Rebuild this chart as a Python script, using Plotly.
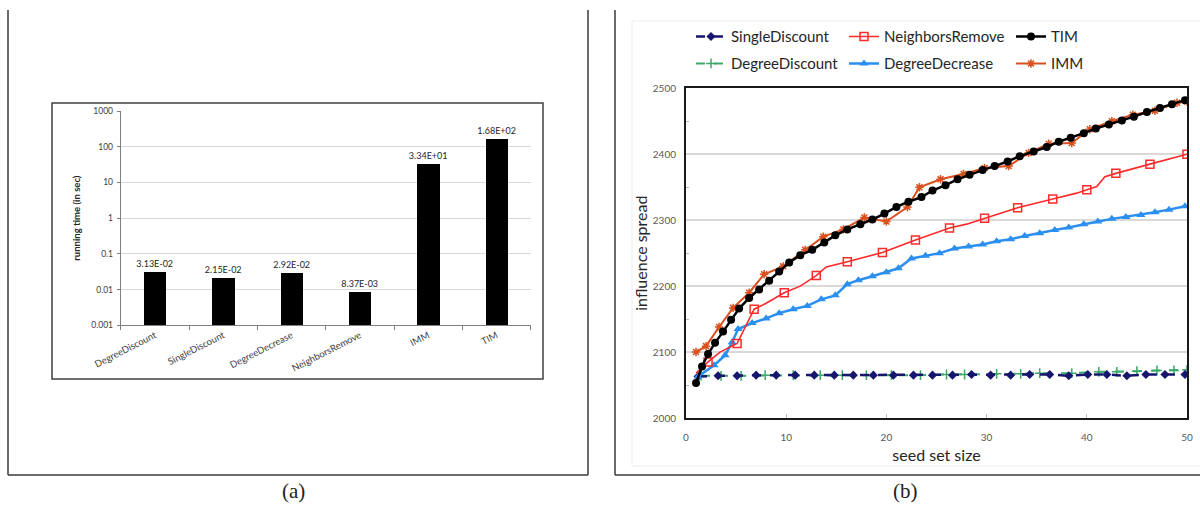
import plotly.graph_objects as go

# ---------------- data: panel (a) ----------------
methods = ["DegreeDiscount", "SingleDiscount", "DegreeDecrease", "NeighborsRemove", "IMM", "TIM"]
run_time = [3.13e-02, 2.15e-02, 2.92e-02, 8.37e-03, 3.34e+01, 1.68e+02]
log_ticks = [0.001, 0.01, 0.1, 1, 10, 100, 1000]
log_tick_text = ["0.001", "0.01", "0.1", "1", "10", "100", "1000"]

# ---------------- data: panel (b) ----------------
tim_x = [1.0, 1.6, 2.2, 2.9, 3.7, 4.5, 5.3, 6.3, 7.3, 8.3, 9.3, 10.3, 11.4, 12.6, 13.8, 14.9,
         16.1, 17.4, 18.6, 19.8, 21.0, 22.2, 23.5, 24.6, 25.9, 27.1, 28.3, 29.6, 30.8, 32.1,
         33.3, 34.7, 36.0, 37.2, 38.4, 39.7, 40.9, 42.2, 43.5, 44.7, 46.0, 47.3, 48.5, 49.8]
tim_y = [2053, 2078, 2097, 2114, 2131, 2149, 2166, 2182, 2195, 2208, 2222, 2236, 2247, 2255, 2266, 2277,
         2286, 2294, 2301, 2310, 2320, 2328, 2335, 2345, 2353, 2362, 2369, 2376, 2382, 2389,
         2397, 2404, 2411, 2419, 2425, 2432, 2439, 2445, 2451, 2457, 2464, 2470, 2476, 2482]

imm_x = [1, 2, 3.3, 4.7, 6.3, 7.8, 9.7, 11.9, 13.7, 15.7, 17.8, 20.0, 22.1, 23.3, 25.4, 27.7,
         29.8, 32.2, 34.2, 36.2, 38.5, 40.3, 42.5, 44.6, 46.8, 49.0, 50]
imm_y = [2100, 2109, 2138, 2167, 2190, 2218, 2230, 2255, 2275, 2286, 2304, 2298, 2320, 2350, 2362, 2370,
         2379, 2382, 2402, 2416, 2417, 2438, 2450, 2460, 2466, 2478, 2480]

nr_x = [1, 2.2, 3.4, 5.1, 6.8, 8.0, 9.8, 11.4, 13.0, 14.0, 16.1, 19.6, 22.9, 26.3, 28.0, 29.8,
        33.1, 36.6, 39.0, 40.0, 41.0, 41.8, 42.9, 46.3, 50]
nr_y = [2068, 2085, 2100, 2113, 2165, 2174, 2190, 2200, 2216, 2229, 2237, 2251, 2270, 2288, 2294, 2303,
        2319, 2332, 2341, 2346, 2351, 2366, 2371, 2385, 2400]
nr_marked = [False, True, False, True, True, False, True, False, True, False, True, True, True, True, False, True,
             True, True, False, True, False, False, True, True, True]

dd_x = [1.2, 2.8, 3.9, 4.6, 5.2, 6.6, 8.0, 9.3, 10.7, 12.1, 13.5, 14.9, 16.1, 17.2, 18.6, 20.0, 21.2,
        22.5, 23.9, 25.3, 26.8, 28.2, 29.6, 31.0, 32.4, 33.8, 35.3, 36.8, 38.2, 39.7, 41.1, 42.5,
        43.9, 45.4, 46.8, 48.2, 49.8]
dd_y = [2063, 2080, 2095, 2115, 2135, 2144, 2151, 2159, 2165, 2170, 2180, 2186, 2203, 2209, 2215, 2221, 2227,
        2242, 2246, 2250, 2257, 2260, 2263, 2268, 2271, 2276, 2280, 2285, 2289, 2294, 2298, 2302,
        2305, 2308, 2312, 2316, 2321]

sd_x = [1.2, 3.2, 5.1, 7.0, 9.0, 10.9, 12.8, 14.8, 16.7, 18.7, 20.7, 22.7, 24.6, 26.6, 28.5, 30.4,
        32.4, 34.3, 36.3, 38.2, 40.1, 42.0, 44.0, 45.9, 47.8, 49.8]
sd_y = [2063, 2064, 2064, 2065, 2065, 2065, 2065, 2065, 2065, 2065, 2065, 2065, 2065, 2065, 2066, 2065,
        2065, 2066, 2066, 2064, 2066, 2066, 2064, 2066, 2066, 2066]

ddisc_x = [1.5, 3.5, 5.5, 7.9, 10.7, 13.4, 15.6, 18.0, 20.5, 23.4, 26.0, 27.8, 31.0, 33.4, 35.3,
           38.5, 41.2, 43.0, 45.0, 47.0, 48.7, 50]
ddisc_y = [2064, 2064, 2064, 2065, 2065, 2065, 2065, 2065, 2065, 2065, 2066, 2066, 2067, 2067, 2068,
           2068, 2070, 2070, 2071, 2072, 2072, 2073]

W, H = 1200, 509
FONT = "Lato"


def px(x):
    return x / W


def py(y):
    return 1 - y / H


fig = go.Figure()

# ---------------- panel (a): bars ----------------
fig.add_trace(go.Bar(
    x=methods, y=run_time, xaxis="x", yaxis="y",
    marker=dict(color="black", line=dict(width=0)),
    width=0.33,
    text=[f"{v:.2E}" for v in run_time],
    textposition="outside", cliponaxis=False, constraintext="none",
    textfont=dict(family=FONT, size=9, color="#262626"),
    showlegend=False,
))

# ---------------- panel (b): lines ----------------
fig.add_trace(go.Scatter(
    x=ddisc_x, y=ddisc_y, xaxis="x2", yaxis="y2", name="DegreeDiscount", legend="legend4",
    mode="lines+markers",
    line=dict(color="#3BA86A", width=2, dash="dash"),
    marker=dict(symbol="cross-thin-open", size=7, line=dict(color="#3BA86A", width=1.5)),
))
fig.add_trace(go.Scatter(
    x=sd_x, y=sd_y, xaxis="x2", yaxis="y2", name="SingleDiscount", legend="legend",
    mode="lines+markers",
    line=dict(color="#16166E", width=2.5, dash="dash"),
    marker=dict(symbol="diamond", size=7, color="#16166E"),
))
fig.add_trace(go.Scatter(
    x=dd_x, y=dd_y, xaxis="x2", yaxis="y2", name="DegreeDecrease", legend="legend5",
    mode="lines+markers",
    line=dict(color="#2A8FF0", width=2.5),
    marker=dict(symbol="triangle-up", size=8, color="#2A8FF0"),
))
# NeighborsRemove: full line, markers only on marked points, plus legend entry
fig.add_trace(go.Scatter(
    x=nr_x, y=nr_y, xaxis="x2", yaxis="y2", mode="lines",
    line=dict(color="#FF2A2A", width=1.6), showlegend=False, hoverinfo="skip",
))
fig.add_trace(go.Scatter(
    x=[x for x, m in zip(nr_x, nr_marked) if m],
    y=[y for y, m in zip(nr_y, nr_marked) if m],
    xaxis="x2", yaxis="y2", mode="markers", showlegend=False,
    marker=dict(symbol="square-open", size=8, color="#FF2A2A", line=dict(width=1.5)),
))
fig.add_trace(go.Scatter(
    x=[None], y=[None], xaxis="x2", yaxis="y2", name="NeighborsRemove", legend="legend2",
    mode="lines+markers",
    line=dict(color="#FF2A2A", width=1.6),
    marker=dict(symbol="square-open", size=8, color="#FF2A2A", line=dict(width=1.5)),
))
fig.add_trace(go.Scatter(
    x=imm_x, y=imm_y, xaxis="x2", yaxis="y2", name="IMM", legend="legend6",
    mode="lines+markers",
    line=dict(color="#D9501E", width=2),
    marker=dict(symbol="asterisk-open", size=7, line=dict(color="#D9501E", width=1.5)),
))
fig.add_trace(go.Scatter(
    x=tim_x, y=tim_y, xaxis="x2", yaxis="y2", name="TIM", legend="legend3",
    mode="lines+markers",
    line=dict(color="black", width=2.5),
    marker=dict(symbol="circle", size=8, color="black"),
))

legend_common = dict(xanchor="left", yanchor="middle", bgcolor="rgba(0,0,0,0)",
                     font=dict(family=FONT, size=15, color="#262626"), itemwidth=30,
                     borderwidth=0)
col_x = [691, 844, 1011]
row_y = [36.7, 63.7]

shapes = []
line_col = "#3a3a3a"
shapes += [
    dict(type="line", xref="paper", yref="paper", x0=px(8), x1=px(8), y0=py(10), y1=py(475),
         line=dict(color=line_col, width=1.5)),
    dict(type="line", xref="paper", yref="paper", x0=px(588), x1=px(588), y0=py(10), y1=py(475),
         line=dict(color=line_col, width=1.5)),
    dict(type="line", xref="paper", yref="paper", x0=px(8), x1=px(588), y0=py(475), y1=py(475),
         line=dict(color=line_col, width=1.5)),
    dict(type="rect", xref="paper", yref="paper", x0=px(52), x1=px(543), y0=py(103), y1=py(379),
         line=dict(color="#404040", width=1.5)),
    dict(type="line", xref="paper", yref="paper", x0=px(615), x1=px(615), y0=py(10), y1=py(475),
         line=dict(color=line_col, width=1.5)),
    dict(type="line", xref="paper", yref="paper", x0=px(615), x1=px(1200), y0=py(475), y1=py(475),
         line=dict(color=line_col, width=1.5)),
    dict(type="rect", xref="paper", yref="paper", x0=px(632), x1=px(1210), y0=py(21), y1=py(466),
         line=dict(color="#eeeeee", width=1)),
]

annotations = [
    dict(text="(a)", xref="paper", yref="paper", x=px(293), y=py(491), showarrow=False,
         xanchor="center", yanchor="middle",
         font=dict(family="Liberation Serif", size=21, color="#222")),
    dict(text="(b)", xref="paper", yref="paper", x=px(905), y=py(491), showarrow=False,
         xanchor="center", yanchor="middle",
         font=dict(family="Liberation Serif", size=21, color="#222")),
]

layout_kwargs = dict(
    width=W, height=H,
    margin=dict(l=0, r=0, t=0, b=0, pad=0, autoexpand=False),
    paper_bgcolor="white", plot_bgcolor="white",
    font=dict(family=FONT, color="#404040"),
    shapes=shapes, annotations=annotations,
    xaxis=dict(
        domain=[px(120.7), px(530.7)], anchor="y", type="category", automargin=False,
        showline=True, linecolor="#7f7f7f", linewidth=1,
        ticks="outside", tickson="boundaries", ticklen=4, tickcolor="#7f7f7f",
        tickangle=-27, tickfont=dict(family=FONT, size=9.5, color="#404040"),
        showgrid=False, fixedrange=True,
    ),
    yaxis=dict(
        domain=[py(325.3), py(111)], anchor="x", type="log", range=[-3, 3], automargin=False,
        tickvals=log_ticks, ticktext=log_tick_text,
        tickfont=dict(family=FONT, size=8.5, color="#404040"),
        showgrid=True, gridcolor="#d9d9d9", gridwidth=1,
        showline=True, linecolor="#7f7f7f", linewidth=1,
        ticks="outside", ticklen=3, tickcolor="#7f7f7f", ticklabelstandoff=2,
        title=dict(text="<b>running time (in sec)</b>", standoff=8,
                   font=dict(family=FONT, size=9.5, color="#262626")),
        zeroline=False,
    ),
    xaxis2=dict(
        domain=[px(686), px(1187)], anchor="y2", range=[0, 50], dtick=10, automargin=False,
        showline=True, mirror=True, linecolor="#1a1a1a", linewidth=2,
        ticks="inside", ticklen=4, tickcolor="#bfbfbf", ticklabelstandoff=9,
        tickfont=dict(family=FONT, size=10, color="#595959"),
        showgrid=False, zeroline=False,
        title=dict(text="seed set size", standoff=8,
                   font=dict(family=FONT, size=16, color="#262626")),
    ),
    yaxis2=dict(
        domain=[py(418), py(88.3)], anchor="x2", range=[2000, 2500], dtick=100, automargin=False,
        showline=True, mirror=True, linecolor="#1a1a1a", linewidth=2,
        ticklabelstandoff=6,
        tickfont=dict(family=FONT, size=10, color="#595959"),
        showgrid=True, gridcolor="#d9d9d9", gridwidth=1.5, zeroline=False,
        minor=dict(ticks="inside", ticklen=3, dtick=50, tickcolor="#bfbfbf", showgrid=False),
        title=dict(text="influence spread", standoff=1,
                   font=dict(family=FONT, size=16, color="#262626")),
    ),
    bargap=0.0,
)

legend_names = ["legend", "legend2", "legend3", "legend4", "legend5", "legend6"]
for i, name in enumerate(legend_names):
    row, col = divmod(i, 3)
    layout_kwargs[name] = dict(legend_common, x=px(col_x[col]), y=py(row_y[row]))

fig.update_layout(**layout_kwargs)

fig.write_html("out.html", post_script="document.body.style.margin='0';",
               config={"displayModeBar": False})
